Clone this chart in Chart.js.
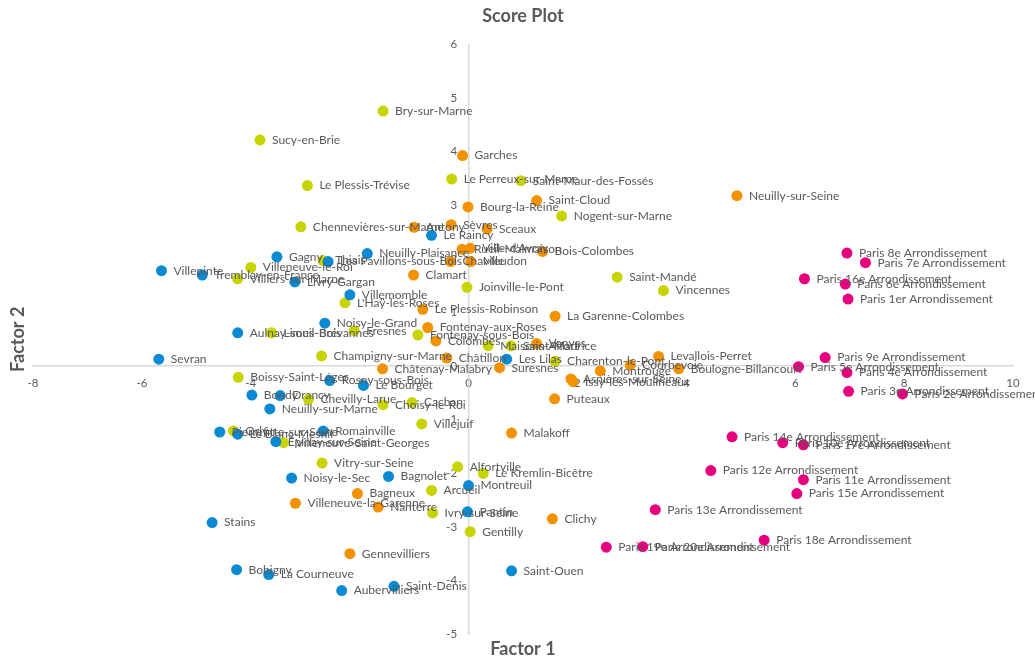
<!DOCTYPE html>
<html>
<head>
<meta charset="utf-8">
<script src="https://cdn.jsdelivr.net/npm/chart.js@4.4.0/dist/chart.umd.min.js"></script>
<style>
  html, body { margin: 0; padding: 0; background: #ffffff; }
  #wrap { width: 1035px; height: 661px; }
</style>
</head>
<body>
<div id="wrap"><canvas id="c" width="1035" height="661"></canvas></div>
<script>
// ---- Data (Factor 1 = x, Factor 2 = y) ----
const parisNames = ["Paris 1er Arrondissement","Paris 2e Arrondissement","Paris 3e Arrondissement","Paris 4e Arrondissement","Paris 5e Arrondissement","Paris 6e Arrondissement","Paris 7e Arrondissement","Paris 8e Arrondissement","Paris 9e Arrondissement","Paris 10e Arrondissement","Paris 11e Arrondissement","Paris 12e Arrondissement","Paris 13e Arrondissement","Paris 14e Arrondissement","Paris 15e Arrondissement","Paris 16e Arrondissement","Paris 17e Arrondissement","Paris 18e Arrondissement","Paris 19e Arrondissement","Paris 20e Arrondissement"];
const parisX = [6.97, 7.97, 6.98, 6.95, 6.06, 6.92, 7.29, 6.95, 6.55, 5.77, 6.15, 4.45, 3.43, 4.84, 6.03, 6.17, 6.15, 5.43, 2.53, 3.20];
const parisY = [1.25, -0.52, -0.47, -0.12, -0.01, 1.53, 1.93, 2.11, 0.16, -1.43, -2.12, -1.95, -2.68, -1.32, -2.38, 1.63, -1.47, -3.25, -3.38, -3.37];

const hdsNames = ["Garches","Bourg-la-Reine","Saint-Cloud","Neuilly-sur-Seine","Antony","Sèvres","Sceaux","Rueil-Malmaison","Ville-d'Avray","Bois-Colombes","Chaville","Meudon","Clamart","Le Plessis-Robinson","La Garenne-Colombes","Fontenay-aux-Roses","Colombes","Vanves","Châtillon","Châtenay-Malabry","Suresnes","Levallois-Perret","Courbevoie","Montrouge","Boulogne-Billancourt","Asnières-sur-Seine","Issy-les-Moulineaux","Puteaux","Malakoff","Bagneux","Villeneuve-la-Garenne","Nanterre","Clichy","Gennevilliers"];
const hdsX = [-0.11, -0.01, 1.25, 4.93, -1.00, -0.32, 0.34, -0.12, 0.03, 1.36, -0.33, 0.04, -1.01, -0.84, 1.59, -0.75, -0.60, 1.25, -0.40, -1.58, 0.57, 3.49, 2.97, 2.42, 3.86, 1.88, 1.92, 1.58, 0.79, -2.04, -3.18, -1.66, 1.54, -2.18];
const hdsY = [3.93, 2.97, 3.09, 3.18, 2.59, 2.64, 2.56, 2.18, 2.20, 2.14, 1.95, 1.95, 1.70, 1.06, 0.93, 0.72, 0.47, 0.42, 0.15, -0.05, -0.03, 0.18, 0.02, -0.09, -0.05, -0.24, -0.29, -0.61, -1.25, -2.38, -2.56, -2.63, -2.85, -3.50];

const ssdNames = ["Villepinte","Tremblay-en-France","Sevran","Aulnay-sous-Bois","Gagny","Livry-Gargan","Les Pavillons-sous-Bois","Neuilly-Plaisance","Le Raincy","Villemomble","Noisy-le-Grand","Les Lilas","Rosny-sous-Bois","Le Bourget","Bondy","Drancy","Neuilly-sur-Marne","Pierrefitte-sur-Seine","Le Blanc-Mesnil","Romainville","Épinay-sur-Seine","Noisy-le-Sec","Bagnolet","Montreuil","Pantin","Stains","Bobigny","La Courneuve","Aubervilliers","Saint-Denis","Saint-Ouen"];
const ssdX = [-5.64, -4.89, -5.69, -4.24, -3.52, -3.19, -2.58, -1.86, -0.68, -2.18, -2.64, 0.70, -2.55, -1.93, -3.98, -3.46, -3.65, -4.57, -4.24, -2.67, -3.54, -3.25, -1.47, 0.00, -0.02, -4.71, -4.26, -3.67, -2.33, -1.37, 0.79];
const ssdY = [1.78, 1.70, 0.13, 0.62, 2.04, 1.57, 1.95, 2.10, 2.44, 1.33, 0.80, 0.13, -0.27, -0.36, -0.54, -0.55, -0.80, -1.23, -1.27, -1.21, -1.41, -2.09, -2.06, -2.23, -2.72, -2.92, -3.80, -3.89, -4.19, -4.11, -3.82];

const vdmNames = ["Bry-sur-Marne","Sucy-en-Brie","Le Plessis-Trévise","Chennevières-sur-Marne","Le Perreux-sur-Marne","Saint-Maur-des-Fossés","Nogent-sur-Marne","Thiais","Villeneuve-le-Roi","Villiers-sur-Marne","Saint-Mandé","Vincennes","Joinville-le-Pont","L'Haÿ-les-Roses","Limeil-Brévannes","Fresnes","Fontenay-sous-Bois","Maisons-Alfort","Saint-Maurice","Champigny-sur-Marne","Charenton-le-Pont","Boissy-Saint-Léger","Chevilly-Larue","Choisy-le-Roi","Cachan","Villejuif","Orly","Villeneuve-Saint-Georges","Vitry-sur-Seine","Alfortville","Le Kremlin-Bicêtre","Arcueil","Ivry-sur-Seine","Gentilly"];
const vdmX = [-1.57, -3.83, -2.96, -3.08, -0.31, 0.96, 1.71, -2.67, -4.00, -4.24, 2.73, 3.58, -0.03, -2.27, -3.62, -2.10, -0.93, 0.36, 0.78, -2.70, 1.59, -4.23, -2.94, -1.57, -1.04, -0.86, -4.32, -3.40, -2.69, -0.20, 0.27, -0.68, -0.66, 0.03];
const vdmY = [4.76, 4.22, 3.37, 2.60, 3.49, 3.46, 2.80, 1.97, 1.84, 1.63, 1.66, 1.41, 1.47, 1.18, 0.62, 0.66, 0.58, 0.38, 0.38, 0.19, 0.09, -0.21, -0.62, -0.72, -0.68, -1.08, -1.21, -1.43, -1.81, -1.88, -2.00, -2.32, -2.74, -3.09];

const xTicksMin = -8, xTicksMax = 10, xTickStep = 2;
const yTicksMin = -5, yTicksMax = 6, yTickStep = 1;

function toPoints(names, xs, ys) {
  return names.map((n, i) => ({ x: xs[i], y: ys[i], name: n }));
}

const TEXT = '#595959';
const FONT = 'Lato, "Open Sans", sans-serif';

const labelPlugin = {
  id: 'pointLabels',
  afterDatasetsDraw(chart) {
    const ctx = chart.ctx;
    ctx.save();
    ctx.font = '12px ' + FONT;
    ctx.fillStyle = TEXT;
    ctx.textBaseline = 'middle';
    ctx.textAlign = 'left';
    chart.data.datasets.forEach((ds, i) => {
      const meta = chart.getDatasetMeta(i);
      meta.data.forEach((el, j) => {
        ctx.fillText(ds.data[j].name, el.x + 12, el.y);
      });
    });
    const a = chart.chartArea;
    ctx.font = 'bold 18px ' + FONT;
    ctx.textAlign = 'center';
    ctx.fillText('Factor 1', (a.left + a.right) / 2, a.bottom + 15);
    ctx.translate(18, (a.top + a.bottom) / 2);
    ctx.rotate(-Math.PI / 2);
    ctx.fillText('Factor 2', 0, 0);
    ctx.restore();
  }
};

new Chart(document.getElementById('c'), {
  type: 'scatter',
  data: {
    datasets: [
      { label: 'Seine-Saint-Denis', data: toPoints(ssdNames, ssdX, ssdY), backgroundColor: '#0A8AD2', borderWidth: 0, pointRadius: 5.5, pointHoverRadius: 5.5 },
      { label: 'Val-de-Marne', data: toPoints(vdmNames, vdmX, vdmY), backgroundColor: '#C8D400', borderWidth: 0, pointRadius: 5.5, pointHoverRadius: 5.5 },
      { label: 'Hauts-de-Seine', data: toPoints(hdsNames, hdsX, hdsY), backgroundColor: '#F39200', borderWidth: 0, pointRadius: 5.5, pointHoverRadius: 5.5 },
      { label: 'Paris', data: toPoints(parisNames, parisX, parisY), backgroundColor: '#E6007E', borderWidth: 0, pointRadius: 5.5, pointHoverRadius: 5.5 }
    ]
  },
  options: {
    responsive: false,
    animation: false,
    events: [],
    layout: { padding: { left: 33, right: 22, top: 0, bottom: 27 } },
    plugins: {
      legend: { display: false },
      tooltip: { enabled: false },
      title: {
        display: true,
        text: 'Score Plot',
        color: TEXT,
        font: { family: FONT, size: 18, weight: 'bold', lineHeight: 1.2 },
        padding: { top: 5, bottom: 18 }
      }
    },
    scales: {
      x: {
        type: 'linear',
        position: { y: 0 },
        min: xTicksMin, max: xTicksMax,
        grid: { display: false, drawTicks: false },
        border: { display: true, color: '#D9D9D9', width: 1.5 },
        ticks: { stepSize: xTickStep, color: TEXT, font: { family: FONT, size: 11.5 }, padding: 10 }
      },
      y: {
        type: 'linear',
        position: { x: 0 },
        min: yTicksMin, max: yTicksMax,
        grid: { display: false, drawTicks: false },
        border: { display: true, color: '#D9D9D9', width: 1.5 },
        ticks: {
          stepSize: yTickStep, color: TEXT, font: { family: FONT, size: 11.5 }, padding: 10,
          callback: (v) => v + '\u2002\u2002'
        }
      }
    }
  },
  plugins: [labelPlugin]
});
</script>
</body>
</html>
